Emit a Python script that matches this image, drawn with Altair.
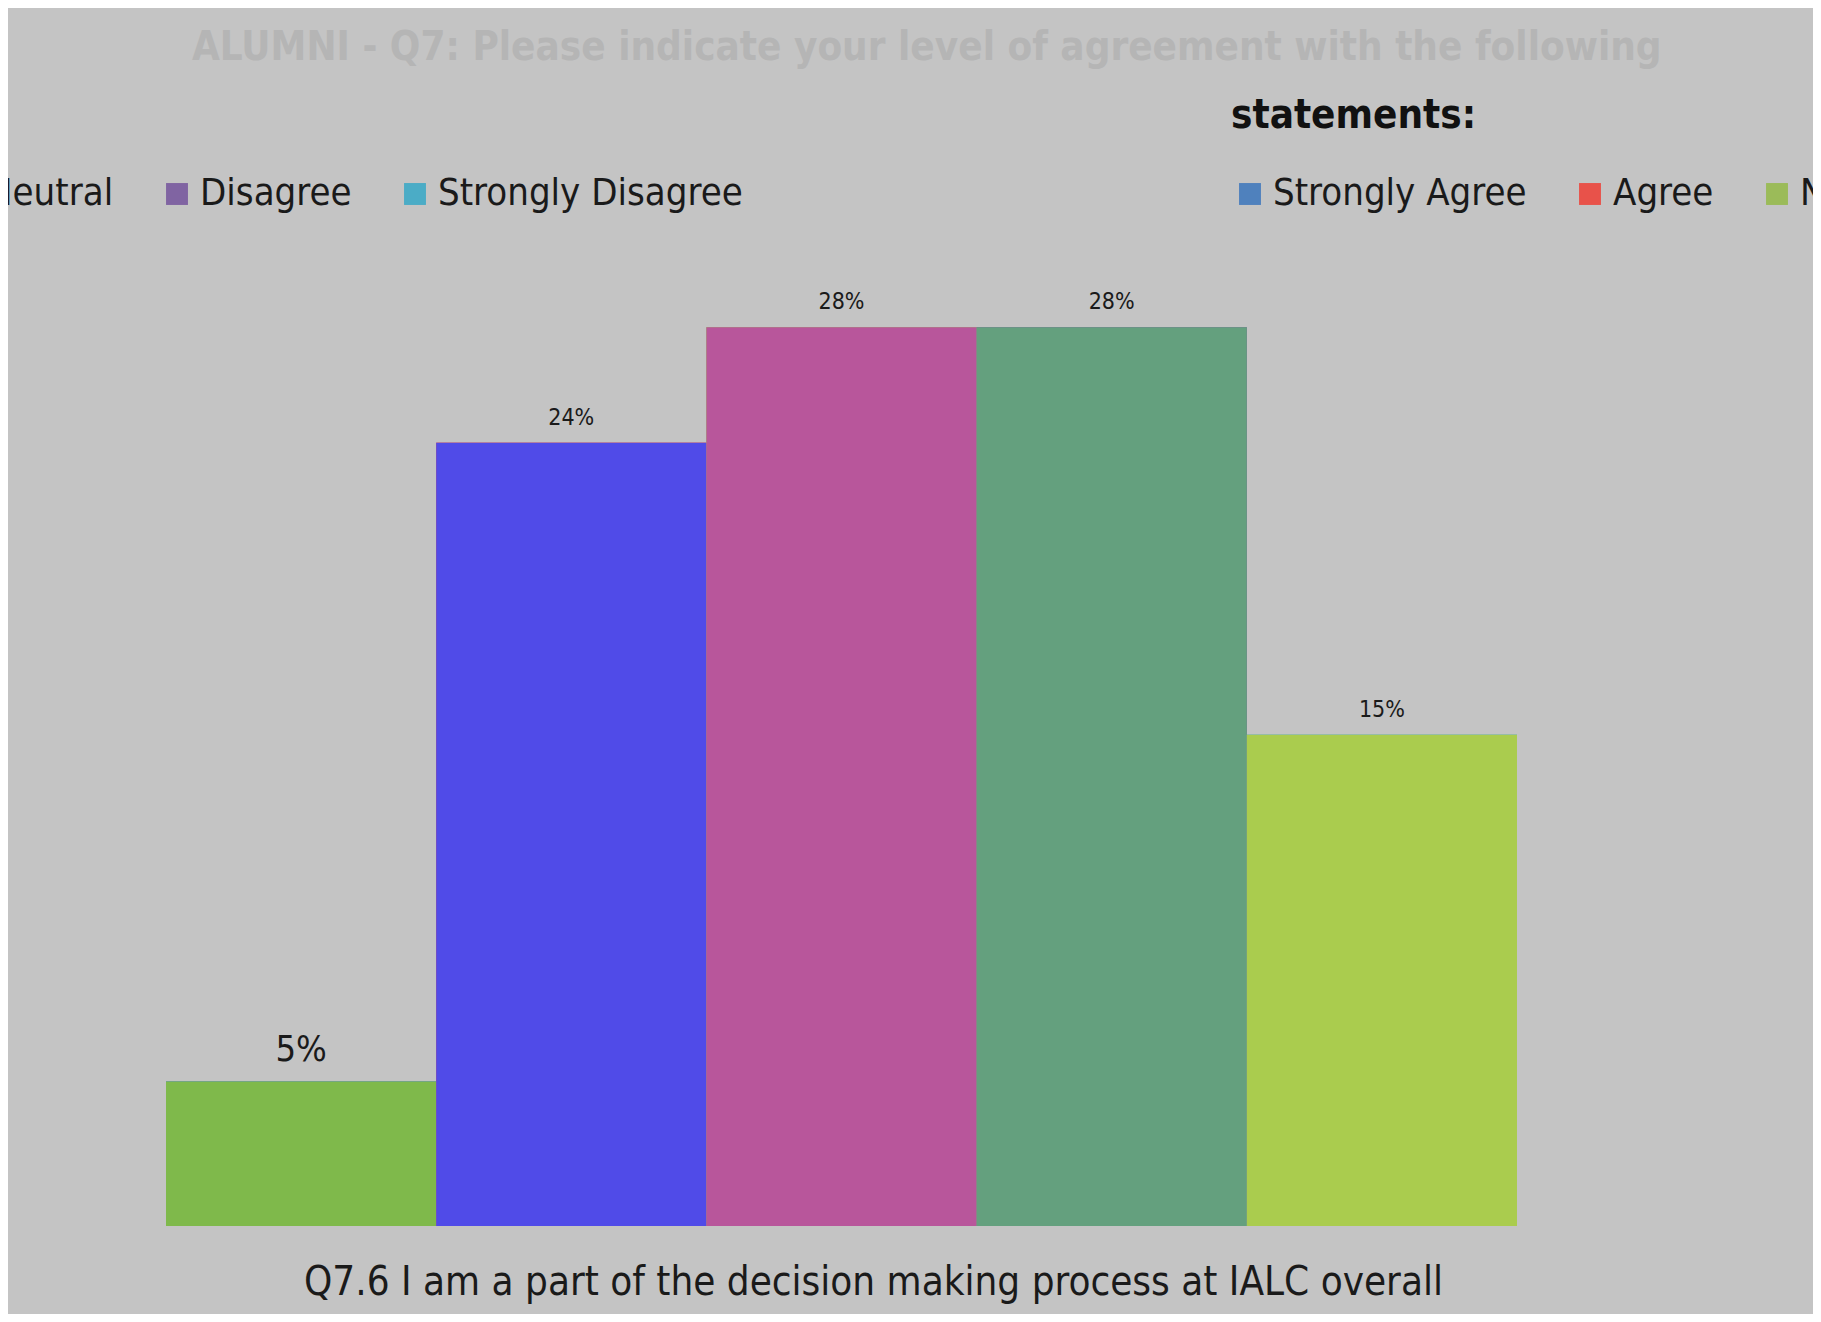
import altair as alt
import pandas as pd

categories = ["Strongly Agree", "Agree", "Neutral", "Disagree", "Strongly Disagree"]
values = [0.045, 0.244, 0.28, 0.28, 0.153]
value_labels = ["5%", "24%", "28%", "28%", "15%"]
bar_colors = ["#7fb94b", "#504be8", "#b8569b", "#64a07e", "#aacc4e"]
legend_colors = ["#4f81bd", "#e8524a", "#9bbb59", "#8064a2", "#4bacc6"]
title_line = "ALUMNI - Q7: Please indicate your level of agreement with the following"
title_tail = "statements:"
x_title = "Q7.6 I am a part of the decision making process at IALC overall"

df = pd.DataFrame({"response": categories, "share": values, "label": value_labels})

FONT = "Liberation Sans Narrow, DejaVu Sans Condensed, sans-serif"
BG = "#c4c4c4"

x_enc = alt.X(
    "response:N",
    sort=categories,
    scale=alt.Scale(paddingInner=0, paddingOuter=0),
    axis=alt.Axis(
        labels=False, ticks=False, domain=False, grid=False,
        title=x_title, titleFont=FONT, titleFontSize=40, titleFontWeight="normal",
        titleColor="#1a1a1a", titlePadding=36, titleX=707, titleLimit=1600,
    ),
)
y_enc = alt.Y("share:Q", scale=alt.Scale(domain=[0, 0.30], nice=False), axis=None)

base = alt.Chart(df)

LEG_X = 1065

common_legend = dict(
    orient="none", direction="horizontal", columns=5, padding=0,
    symbolType="square", symbolSize=480, symbolStrokeWidth=0,
    labelFont=FONT, labelFontSize=38, labelColor="#1a1a1a", labelOffset=4,
    columnPadding=44, labelLimit=600,
)

legend_a = base.mark_bar().encode(
    x=x_enc, y=y_enc,
    color=alt.Color(
        "response:N", sort=categories,
        scale=alt.Scale(domain=categories, range=legend_colors),
        legend=alt.Legend(
            title=title_tail, titleFont=FONT, titleFontSize=40, titleFontWeight="bold",
            titleColor="#111111", titlePadding=39, titleAnchor="start", titleLimit=800,
            legendX=LEG_X, legendY=-167, **common_legend,
        ),
    ),
)

legend_b = base.mark_bar().encode(
    x=x_enc, y=y_enc,
    color=alt.Color(
        "response:N", sort=categories,
        scale=alt.Scale(domain=categories, range=legend_colors),
        legend=alt.Legend(title=None, legendX=LEG_X - 1821 + 8, legendY=-88, **common_legend),
    ),
)

bars = base.mark_bar().encode(
    x=x_enc, y=y_enc,
    color=alt.Color(
        "response:N", sort=categories,
        scale=alt.Scale(domain=categories, range=bar_colors),
        legend=None,
    ),
)

labels = base.mark_text(baseline="bottom", dy=-13, font=FONT, color="#1a1a1a").encode(
    x=x_enc, y=y_enc,
    text=alt.Text("label:N"),
    size=alt.condition("datum.share < 0.1", alt.value(36), alt.value(23)),
)

chart = (
    alt.layer(legend_a, legend_b, bars, labels)
    .resolve_scale(color="independent")
    .properties(
        width=1351, height=963,
        padding={"left": 158, "top": 255, "right": 296, "bottom": 88},
        autosize=alt.AutoSizeParams(type="none"),
        title=alt.Title(
            title_line, anchor="start", frame="group", dx=26, offset=28,
            font=FONT, fontSize=40, fontWeight="bold", color="#b5b5b5",
        ),
    )
    .configure(background=BG)
    .configure_view(stroke=None)
)

chart.save("out.html", embed_options={"renderer": "svg", "actions": False})
